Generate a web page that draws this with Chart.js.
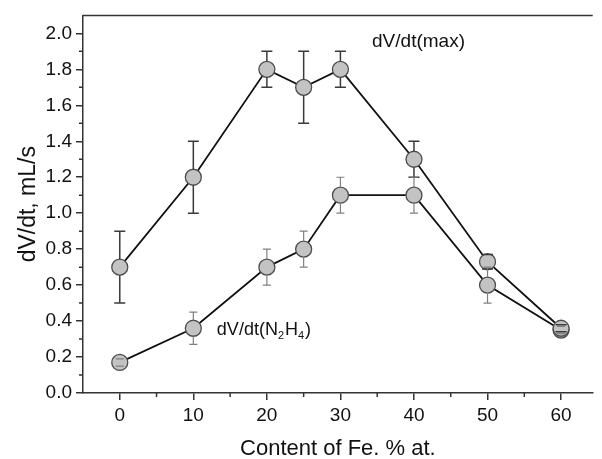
<!DOCTYPE html>
<html>
<head>
<meta charset="utf-8">
<script src="https://cdn.jsdelivr.net/npm/chart.js@4/dist/chart.umd.min.js"></script>
<style>
  html, body { margin: 0; padding: 0; background: #fff; overflow: hidden; }
  #wrap { width: 602px; height: 459px; }
</style>
</head>
<body>
<div id="wrap"><canvas id="c" width="602" height="459"></canvas></div>
<script>
// Fe content, % at.
const feContent = [0, 10, 20, 25, 30, 40, 50, 60];
// Maximum gas evolution rate, mL/s, with error
const rateMax = [0.70, 1.20, 1.80, 1.70, 1.80, 1.30, 0.73, 0.36];
const rateMaxErr = [0.20, 0.20, 0.10, 0.20, 0.10, 0.10, 0.04, 0.02];
// Rate of hydrazine decomposition, mL/s, with error
const rateN2H4 = [0.17, 0.36, 0.70, 0.80, 1.10, 1.10, 0.60, 0.35];
const rateN2H4Err = [0.02, 0.09, 0.10, 0.10, 0.10, 0.10, 0.10, 0.02];
// Axis ticks
const xTickValues = [0, 10, 20, 30, 40, 50, 60];
const xMinorValues = [5, 15, 25, 35, 45, 55];
const yTickValues = [0.0, 0.2, 0.4, 0.6, 0.8, 1.0, 1.2, 1.4, 1.6, 1.8, 2.0];
const yMinorValues = [0.1, 0.3, 0.5, 0.7, 0.9, 1.1, 1.3, 1.5, 1.7, 1.9];

const FONT = "'Liberation Sans', Arial, sans-serif";
const AXIS_COLOR = '#333';
const POINT_R = 8;

const toPoints = (xs, ys) => xs.map((x, i) => ({ x: x, y: ys[i] }));

// Vertical error bars; the stem stops at the marker edge, caps are drawn on top.
const errorBars = {
  id: 'errorBars',
  afterDatasetsDraw(chart) {
    const { ctx, scales: { x, y } } = chart;
    chart.data.datasets.forEach((ds) => {
      const errs = ds.errors;
      if (!errs) return;
      ctx.save();
      ctx.strokeStyle = ds.errorColor;
      ctx.lineWidth = ds.errorWidth;
      ds.data.forEach((p, i) => {
        const px = x.getPixelForValue(p.x);
        const pc = y.getPixelForValue(p.y);
        const pt = y.getPixelForValue(p.y + errs[i]);
        const pb = y.getPixelForValue(p.y - errs[i]);
        const cap = ds.capHalf;
        ctx.beginPath();
        if (pc - pt > POINT_R) { ctx.moveTo(px, pc - POINT_R); ctx.lineTo(px, pt); }
        if (pb - pc > POINT_R) { ctx.moveTo(px, pc + POINT_R); ctx.lineTo(px, pb); }
        ctx.moveTo(px - cap, pt); ctx.lineTo(px + cap, pt);
        ctx.moveTo(px - cap, pb); ctx.lineTo(px + cap, pb);
        ctx.stroke();
      });
      ctx.restore();
    });
  }
};

// Minor ticks, top frame line and curve labels
const decorations = {
  id: 'decorations',
  afterDraw(chart) {
    const { ctx, chartArea: a, scales: { x, y } } = chart;
    ctx.save();
    ctx.strokeStyle = AXIS_COLOR;
    ctx.lineWidth = 1.5;
    ctx.beginPath();
    ctx.moveTo(a.left, a.top); ctx.lineTo(a.right, a.top);
    xMinorValues.forEach(v => {
      const px = x.getPixelForValue(v);
      ctx.moveTo(px, a.bottom); ctx.lineTo(px, a.bottom + 4);
    });
    yMinorValues.forEach(v => {
      const py = y.getPixelForValue(v);
      ctx.moveTo(a.left, py); ctx.lineTo(a.left - 4, py);
    });
    ctx.stroke();

    ctx.fillStyle = '#111';
    ctx.textBaseline = 'alphabetic';
    ctx.textAlign = 'left';
    ctx.font = '19px ' + FONT;
    ctx.fillText('dV/dt(max)', x.getPixelForValue(34.3), y.getPixelForValue(1.925));

    // dV/dt(N2H4) with subscripts
    let cx = x.getPixelForValue(13.2);
    const by = y.getPixelForValue(0.32);
    const parts = [['dV/dt(N', false], ['2', true], ['H', false], ['4', true], [')', false]];
    parts.forEach(([t, sub]) => {
      ctx.font = (sub ? '11px ' : '18px ') + FONT;
      ctx.fillText(t, cx, sub ? by + 4 : by);
      cx += ctx.measureText(t).width + (sub ? 1 : 0);
    });
    ctx.restore();
  }
};

new Chart(document.getElementById('c'), {
  type: 'scatter',
  data: {
    datasets: [
      {
        label: 'dV/dt(max)',
        data: toPoints(feContent, rateMax),
        errors: rateMaxErr,
        errorColor: '#3a3a3a', errorWidth: 1.5, capHalf: 5.5,
        showLine: true,
        borderColor: '#111', borderWidth: 1.8,
        pointRadius: POINT_R, pointHoverRadius: POINT_R,
        pointBackgroundColor: '#c3c3c3', pointBorderColor: '#4d4d4d', pointBorderWidth: 1.3
      },
      {
        label: 'dV/dt(N2H4)',
        data: toPoints(feContent, rateN2H4),
        errors: rateN2H4Err,
        errorColor: '#808080', errorWidth: 1.2, capHalf: 4,
        showLine: true,
        borderColor: '#111', borderWidth: 1.8,
        pointRadius: POINT_R, pointHoverRadius: POINT_R,
        pointBackgroundColor: '#c3c3c3', pointBorderColor: '#4d4d4d', pointBorderWidth: 1.3
      }
    ]
  },
  options: {
    responsive: false,
    animation: false,
    devicePixelRatio: 1,
    layout: { padding: { top: 12, right: 0, bottom: 0, left: 0 } },
    plugins: { legend: { display: false }, tooltip: { enabled: false } },
    scales: {
      x: {
        type: 'linear',
        min: -5, max: 64.3,
        afterBuildTicks: s => { s.ticks = xTickValues.map(v => ({ value: v })); },
        afterFit: s => { s.height = 66; },
        grid: { display: true, drawOnChartArea: false, drawTicks: true, tickLength: 7, color: AXIS_COLOR, lineWidth: 1.5 },
        border: { display: true, color: AXIS_COLOR, width: 1.5 },
        ticks: { color: '#111', font: { family: FONT, size: 19 }, padding: 4, maxRotation: 0,
                 callback: v => String(v) },
        title: { display: true, text: 'Content of Fe. % at.', color: '#111',
                 font: { family: FONT, size: 22, lineHeight: 1 }, padding: { top: 0, bottom: -1 } }
      },
      y: {
        type: 'linear',
        min: 0, max: 2.1,
        afterBuildTicks: s => { s.ticks = yTickValues.map(v => ({ value: v })); },
        afterFit: s => { s.width = 83; },
        grid: { display: true, drawOnChartArea: false, drawTicks: true, tickLength: 7, color: AXIS_COLOR, lineWidth: 1.5 },
        border: { display: true, color: AXIS_COLOR, width: 1.5 },
        ticks: { color: '#111', font: { family: FONT, size: 19 }, padding: 4,
                 callback: v => Number(v).toFixed(1) },
        title: { display: true, text: 'dV/dt, mL/s', color: '#111',
                 font: { family: FONT, size: 23, lineHeight: 1 }, padding: { top: 17, bottom: 0 } }
      }
    }
  },
  plugins: [errorBars, decorations]
});
</script>
</body>
</html>
